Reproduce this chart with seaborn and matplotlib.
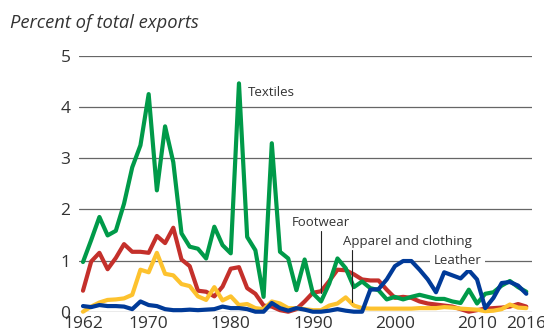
import numpy as np
import pandas as pd
import matplotlib
matplotlib.use("Agg")
import matplotlib.pyplot as plt
import seaborn as sns

# ---------------------------------------------------------
# Data, 1962-2016
# ---------------------------------------------------------
years = list(range(1962, 2017))

textiles = [
    0.97, 1.40, 1.85, 1.49, 1.58, 2.11, 2.82, 3.25, 4.25, 2.37,
    3.62, 2.92, 1.53, 1.27, 1.23, 1.04, 1.66, 1.30, 1.14, 4.46,
    1.46, 1.20, 0.29, 3.29, 1.17, 1.04, 0.42, 1.02, 0.36, 0.20,
    0.55, 1.04, 0.85, 0.48, 0.59, 0.46, 0.42, 0.24, 0.29, 0.24,
    0.29, 0.33, 0.29, 0.25, 0.25, 0.20, 0.17, 0.43, 0.16, 0.35,
    0.38, 0.51, 0.60, 0.48, 0.39,
]

footwear = [
    0.41, 0.98, 1.15, 0.83, 1.05, 1.32, 1.17, 1.17, 1.15, 1.48,
    1.34, 1.64, 1.02, 0.89, 0.41, 0.39, 0.30, 0.49, 0.84, 0.87,
    0.46, 0.35, 0.12, 0.10, 0.03, 0.00, 0.05, 0.20, 0.37, 0.40,
    0.60, 0.82, 0.81, 0.73, 0.63, 0.61, 0.61, 0.43, 0.27, 0.29,
    0.27, 0.20, 0.16, 0.14, 0.12, 0.10, 0.05, 0.00, 0.03, 0.06,
    0.07, 0.08, 0.10, 0.15, 0.10,
]

apparel = [
    0.00, 0.10, 0.18, 0.23, 0.24, 0.26, 0.33, 0.82, 0.77, 1.15,
    0.74, 0.71, 0.54, 0.50, 0.30, 0.23, 0.48, 0.22, 0.30, 0.13,
    0.15, 0.07, 0.05, 0.20, 0.16, 0.07, 0.07, 0.05, 0.03, 0.03,
    0.12, 0.16, 0.28, 0.12, 0.07, 0.06, 0.06, 0.06, 0.06, 0.06,
    0.06, 0.07, 0.07, 0.07, 0.09, 0.08, 0.06, 0.05, 0.04, 0.01,
    0.02, 0.05, 0.14, 0.08, 0.07,
]

leather = [
    0.11, 0.09, 0.13, 0.11, 0.11, 0.10, 0.05, 0.20, 0.13, 0.11,
    0.05, 0.03, 0.03, 0.04, 0.03, 0.04, 0.05, 0.10, 0.07, 0.07,
    0.05, 0.00, 0.00, 0.17, 0.07, 0.02, 0.07, 0.04, 0.00, 0.00,
    0.02, 0.05, 0.02, 0.00, 0.00, 0.43, 0.44, 0.63, 0.89, 0.99,
    0.99, 0.82, 0.63, 0.38, 0.77, 0.71, 0.65, 0.81, 0.63, 0.07,
    0.27, 0.56, 0.58, 0.51, 0.35,
]

x_ticks = [1962, 1970, 1980, 1990, 2000, 2010, 2016]
y_ticks = [0, 1, 2, 3, 4, 5]

# long-form table for seaborn
df = pd.concat([
    pd.DataFrame({"year": years, "share": footwear, "sector": "Footwear"}),
    pd.DataFrame({"year": years, "share": apparel, "sector": "Apparel and clothing"}),
    pd.DataFrame({"year": years, "share": textiles, "sector": "Textiles"}),
    pd.DataFrame({"year": years, "share": leather, "sector": "Leather"}),
])

palette = {
    "Footwear": "#C4302B",
    "Apparel and clothing": "#FDC22E",
    "Textiles": "#009A49",
    "Leather": "#003A98",
}

# ---------------------------------------------------------
# Plot
# ---------------------------------------------------------
sns.set_style("white")
plt.rcParams["font.family"] = ["Open Sans", "DejaVu Sans"]

fig = plt.figure(figsize=(5.44, 3.31), dpi=100)
ax = fig.add_axes([0.145, 0.0583, 0.833, 0.7734])

sns.lineplot(data=df, x="year", y="share", hue="sector",
             hue_order=list(palette.keys()), palette=palette,
             linewidth=3.0, legend=False, ax=ax, clip_on=False)

ax.set_xlim(1961.5, 2016.7)
ax.set_ylim(0, 5)
ax.set_xticks(x_ticks)
ax.set_yticks(y_ticks)
ax.tick_params(axis="both", length=0, labelsize=12.5, colors="#333333")
ax.tick_params(axis="x", pad=3)
ax.tick_params(axis="y", pad=6)
ax.set_xlabel("")
ax.set_ylabel("")
for s in ax.spines.values():
    s.set_visible(False)
ax.grid(False)
for v in y_ticks:
    ax.axhline(v, color="#666666", lw=0.9, zorder=0.5)

# labels and leader lines
ax.text(1982.1, 4.29, "Textiles", fontsize=9.5, color="#333333",
        ha="left", va="center")
ax.text(1991.0, 1.74, "Footwear", fontsize=9.5, color="#333333",
        ha="center", va="center")
ax.plot([1991.0, 1991.0], [1.57, 0.37], color="#222222", lw=0.8, zorder=5)
ax.text(1993.7, 1.37, "Apparel and clothing", fontsize=9.5, color="#333333",
        ha="left", va="center")
ax.plot([1994.8, 1994.8], [1.21, 0.19], color="#222222", lw=0.8, zorder=5)
ax.text(2007.6, 1.0, "Leather", fontsize=9.5, color="#333333",
        ha="center", va="center", zorder=3,
        bbox=dict(facecolor="white", edgecolor="none", pad=2.5))

fig.text(0.018, 1 - 23 / 331, "Percent of total exports", fontsize=13.2,
         style="italic", color="#333333", ha="left", va="center")

fig.savefig("out.png", dpi=100)
